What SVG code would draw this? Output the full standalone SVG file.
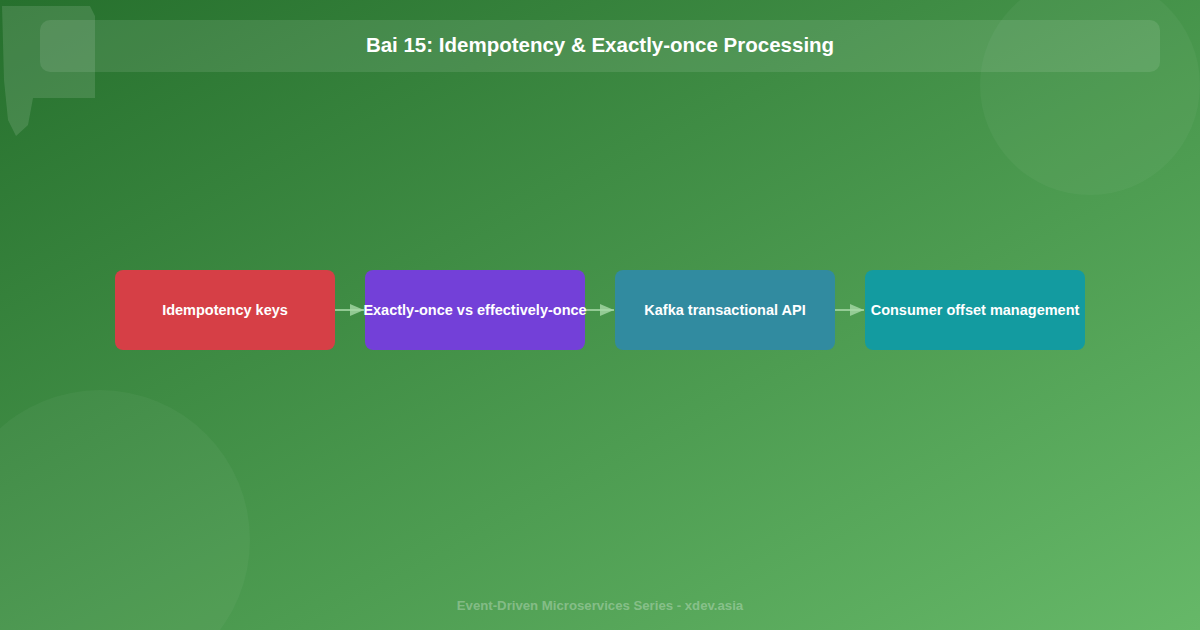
<svg xmlns="http://www.w3.org/2000/svg" width="1200" height="630" viewBox="0 0 1200 630">
<defs>
<linearGradient id="bg" x1="0" y1="0" x2="1" y2="1">
<stop offset="0" stop-color="#26702d"/>
<stop offset="1" stop-color="#66b868"/>
</linearGradient>
<marker id="ah" markerWidth="14" markerHeight="12" refX="14" refY="6" orient="auto" markerUnits="userSpaceOnUse" viewBox="0 0 14 12">
<path d="M0,0 L14,6 L0,12 z" fill="#a6d8a6" fill-opacity="0.8"/>
</marker>
<style>
.n{font-family:"Liberation Sans",Arial,sans-serif;font-size:14.5px;font-weight:bold;fill:#fff;text-anchor:middle}
.c{stroke:#a6d8a6;stroke-opacity:0.8;stroke-width:2;fill:none}
</style>
</defs>
<rect width="1200" height="630" fill="url(#bg)"/>
<circle cx="1090" cy="85" r="110" fill="#fff" fill-opacity="0.04"/>
<circle cx="100" cy="540" r="150" fill="#fff" fill-opacity="0.04"/>
<path d="M2,6 L90,6 L95,16 L95,98 L33,98 L28,125 L16,136 L8,120 L4,80 Z" fill="#fff" fill-opacity="0.12"/>
<rect x="40" y="20" width="1120" height="52" rx="10" fill="#fff" fill-opacity="0.1"/>
<text x="600" y="52" font-family="'Liberation Sans',Arial,sans-serif" font-size="20.5" font-weight="bold" fill="#fff" text-anchor="middle">Bai 15: Idempotency &amp; Exactly-once Processing</text>
<g id="connectors">
<line class="c" x1="335" y1="310" x2="364" y2="310" marker-end="url(#ah)"/>
<line class="c" x1="585" y1="310" x2="614" y2="310" marker-end="url(#ah)"/>
<line class="c" x1="835" y1="310" x2="864" y2="310" marker-end="url(#ah)"/>
</g>
<g id="n1"><rect x="115" y="270" width="220" height="80" rx="8" fill="#d63f46"/><text class="n" x="225" y="315">Idempotency keys</text></g>
<g id="n2"><rect x="365" y="270" width="220" height="80" rx="8" fill="#7340d8"/><text class="n" x="475" y="315">Exactly-once vs effectively-once</text></g>
<g id="n3"><rect x="615" y="270" width="220" height="80" rx="8" fill="#318ba0"/><text class="n" x="725" y="315">Kafka transactional API</text></g>
<g id="n4"><rect x="865" y="270" width="220" height="80" rx="8" fill="#139ba0"/><text class="n" x="975" y="315">Consumer offset management</text></g>
<text x="600" y="610" font-family="'Liberation Sans',Arial,sans-serif" font-size="13.2" font-weight="bold" fill="#fff" fill-opacity="0.3" text-anchor="middle">Event-Driven Microservices Series - xdev.asia</text>
</svg>
